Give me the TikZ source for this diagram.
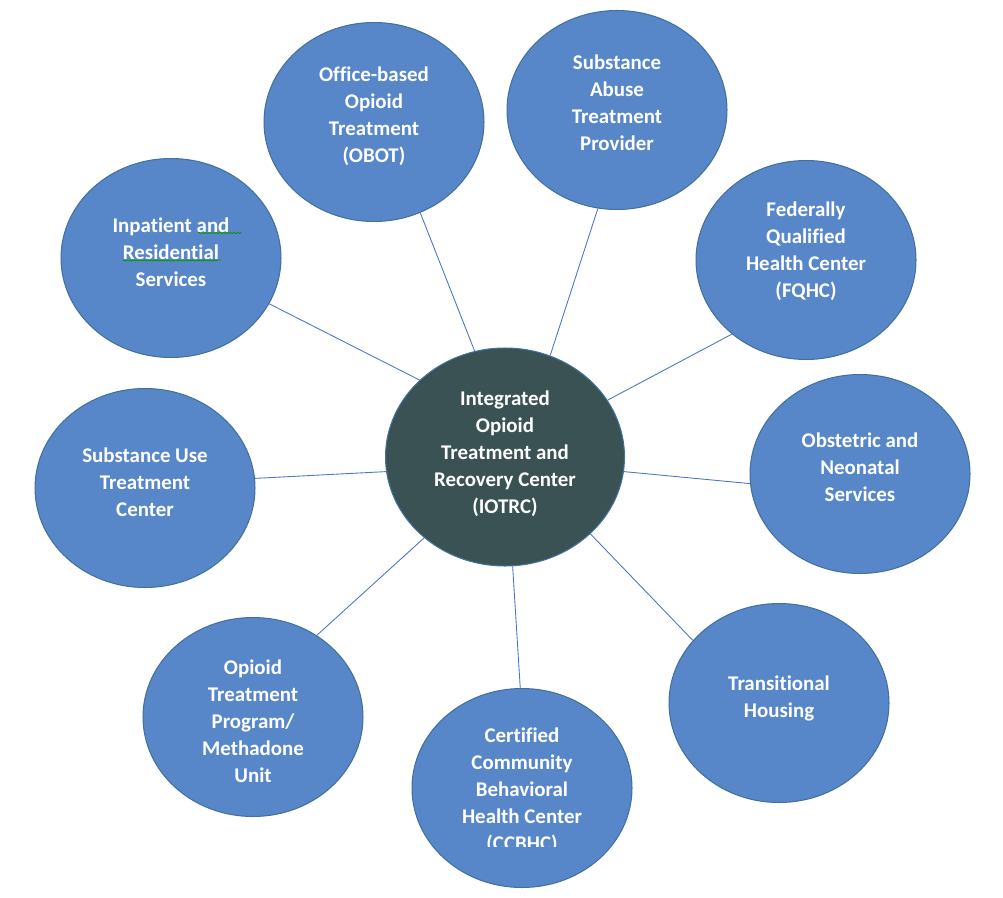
\documentclass[tikz,border=0pt]{standalone}
\usepackage{fontspec}
\setmainfont[Ligatures=NoCommon]{Carlito}
\usetikzlibrary{shapes.geometric,decorations.pathmorphing}
\definecolor{outerfill}{HTML}{5787C9}
\definecolor{outerline}{HTML}{41719C}
\definecolor{hubfill}{HTML}{3A5254}
\definecolor{spoke}{HTML}{4A78C6}
\tikzset{
    outer/.style={ellipse, draw=outerline, fill=outerfill, line width=0.6pt,
        minimum width=4.4cm, minimum height=3.98cm, inner sep=0pt},
    hub/.style={outer, fill=hubfill, minimum width=4.78cm, minimum height=4.36cm},
    words/.style={text=white, align=center, inner sep=0pt,
        font=\bfseries\fontsize{11.9}{15.4}\selectfont},
    spokeline/.style={draw=spoke, line width=0.5pt}
}
\begin{document}
\begin{tikzpicture}[x=0.02cm, y=-0.02cm]
    \useasboundingbox[fill=white] (0, 0) rectangle (1003, 898);

    \node[hub] (iotrc) at (505, 457) {};
        \node[outer] (obot) at (374, 122) {};
        \node[outer] (satp) at (617, 110) {};
        \node[outer] (inpat) at (171, 258) {};
        \node[outer] (fqhc) at (806, 260) {};
        \node[outer] (sutc) at (145, 488) {};
        \node[outer] (obst) at (860, 474) {};
        \node[outer] (otp) at (253, 717) {};
        \node[outer] (trans) at (779, 703) {};
        \node[outer] (ccbhc) at (522, 788) {};

    % texts sit a little above the middle of each circle
    \node[words] (iotrcw) at (505, 454) {Integrated\\Opioid\\Treatment and\\Recovery Center\\(IOTRC)};
        \node[words] (obotw) at (374, 116) {Office-based\\Opioid\\Treatment\\(OBOT)};
        \node[words] (satpw) at (617, 103) {Substance\\Abuse\\Treatment\\Provider};
        \node[words] (inpatw) at (171, 252) {Inpatient and\\Residential\\Services};
        \node[words] (fqhcw) at (806, 251) {Federally\\Qualified\\Health Center\\(FQHC)};
        \node[words] (sutcw) at (145, 482) {Substance Use\\Treatment\\Center};
        \node[words] (obstw) at (860, 467) {Obstetric and\\Neonatal\\Services};
        \node[words] (otpw) at (253, 721) {Opioid\\Treatment\\Program/\\Methadone\\Unit};
        \node[words] (transw) at (779, 698) {Transitional\\Housing};
    \begin{scope}
        \clip (413, 680) rectangle (632, 846);
        \node[words] (ccbhcw) at (522, 791) {Certified\\Community\\Behavioral\\Health Center\\(CCBHC)};
    \end{scope}

    \draw[spokeline] (iotrc.106.4) -- (obot.-63.9);
    \draw[spokeline] (iotrc.66) -- (satp.-101.9);
    \draw[spokeline] (iotrc.138.9) -- (inpat.-25.2);
    \draw[spokeline] (iotrc.29.8) -- (fqhc.-135.8);
    \draw[spokeline] (iotrc.-173.8) -- (sutc.5.2);
    \draw[spokeline] (iotrc.-7.1) -- (obst.-175.8);
    \draw[spokeline] (iotrc.-135.7) -- (otp.52.1);
    \draw[spokeline] (iotrc.-42.5) -- (trans.144.5);
    \draw[spokeline] (iotrc.-86.9) -- (ccbhc.91.8);

    % spell check marks
    \draw[green!60!black, line width=0.5pt, decorate, decoration={snake, amplitude=0.25pt, segment length=2pt}]
        (198, 233) -- (240, 233) (123, 260) -- (221, 260);
\end{tikzpicture}
\end{document}
